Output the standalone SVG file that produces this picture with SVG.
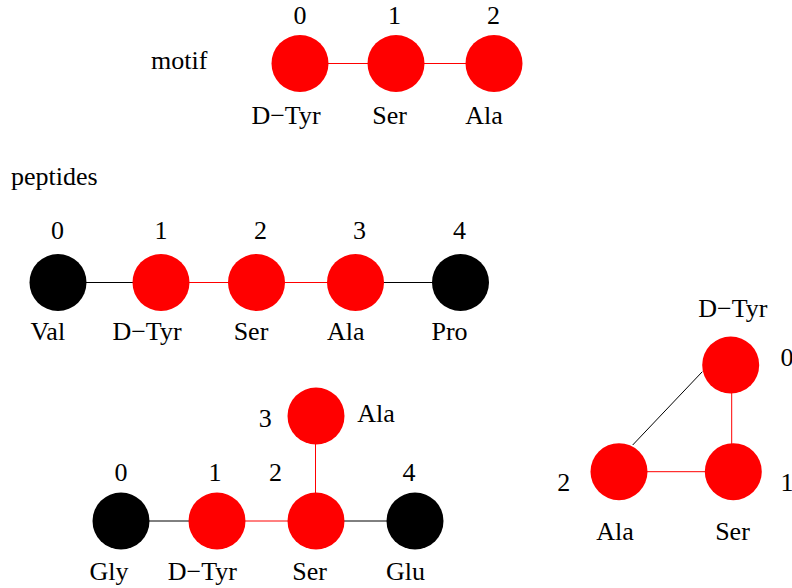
<svg xmlns="http://www.w3.org/2000/svg" width="792" height="588" viewBox="0 0 792 588" font-family="Liberation Serif" font-size="26">
<style>
text{fill:#000;text-anchor:middle}
.t{text-anchor:start}
.r{fill:#ff0000}
.k{fill:#000}
.er{stroke:#ff0000;stroke-width:1;fill:none}
.ek{stroke:#000;stroke-width:1;fill:none}
</style>
<rect width="792" height="588" fill="#fff"/>
<text class="t" x="151" y="69">motif</text>
<text class="t" x="11" y="185">peptides</text>
<g id="edges">
<line class="er" x1="300" y1="63.5" x2="396" y2="63.5"/>
<line class="er" x1="396" y1="63.5" x2="494" y2="63.5"/>
<line class="ek" x1="58" y1="282.5" x2="161" y2="282.5"/>
<line class="er" x1="161" y1="282.5" x2="256.5" y2="282.5"/>
<line class="er" x1="256.5" y1="282.5" x2="355.5" y2="282.5"/>
<line class="ek" x1="355.5" y1="282.5" x2="460.5" y2="282.5"/>
<line class="ek" x1="121" y1="521" x2="217" y2="521"/>
<line class="er" x1="217" y1="521" x2="316" y2="521"/>
<line class="ek" x1="316" y1="521" x2="415" y2="521"/>
<line class="er" x1="315.5" y1="416" x2="315.5" y2="521"/>
<line class="ek" x1="632.7" y1="445" x2="702.3" y2="371.7"/>
<line class="er" x1="731.7" y1="365" x2="731.7" y2="471.7"/>
<line class="er" x1="619" y1="471.7" x2="733.3" y2="471.7"/>
</g>
<g id="motif-0"><circle class="r" cx="300" cy="63.5" r="28.5"/><text x="300" y="24">0</text><text x="286" y="124">D−Tyr</text></g>
<g id="motif-1"><circle class="r" cx="396" cy="63.5" r="28.5"/><text x="394.5" y="24">1</text><text x="389.7" y="124">Ser</text></g>
<g id="motif-2"><circle class="r" cx="494" cy="63.5" r="28.5"/><text x="493.5" y="24">2</text><text x="484" y="124">Ala</text></g>
<g id="p1-0"><circle class="k" cx="58" cy="282.5" r="28.5"/><text x="57.5" y="238.5">0</text><text x="47.8" y="340">Val</text></g>
<g id="p1-1"><circle class="r" cx="161" cy="282.5" r="28.5"/><text x="161" y="238.5">1</text><text x="147" y="340">D−Tyr</text></g>
<g id="p1-2"><circle class="r" cx="256.5" cy="282.5" r="28.5"/><text x="260.5" y="238.5">2</text><text x="251" y="340">Ser</text></g>
<g id="p1-3"><circle class="r" cx="355.5" cy="282.5" r="28.5"/><text x="359.5" y="238.5">3</text><text x="345.8" y="340">Ala</text></g>
<g id="p1-4"><circle class="k" cx="460.5" cy="282.5" r="28.5"/><text x="459.5" y="238.5">4</text><text x="449.5" y="340">Pro</text></g>
<g id="p2-0"><circle class="k" cx="121" cy="521" r="28.5"/><text x="121" y="480.5">0</text><text x="109" y="580">Gly</text></g>
<g id="p2-1"><circle class="r" cx="217" cy="521" r="28.5"/><text x="215" y="480.5">1</text><text x="202.3" y="580">D−Tyr</text></g>
<g id="p2-2"><circle class="r" cx="316" cy="521" r="28.5"/><text x="275.5" y="480.5">2</text><text x="309.7" y="580">Ser</text></g>
<g id="p2-3"><circle class="r" cx="316" cy="416" r="28.5"/><text x="265.3" y="426.5">3</text><text x="376" y="421.7">Ala</text></g>
<g id="p2-4"><circle class="k" cx="415" cy="521" r="28.5"/><text x="409" y="480.5">4</text><text x="405.5" y="580">Glu</text></g>
<g id="t-0"><circle class="r" cx="730.7" cy="365" r="28.5"/><text x="787" y="366">0</text><text x="732.8" y="316.7">D−Tyr</text></g>
<g id="t-1"><circle class="r" cx="733.3" cy="471.7" r="28.5"/><text x="787" y="490.7">1</text><text x="732.5" y="540">Ser</text></g>
<g id="t-2"><circle class="r" cx="619" cy="471.7" r="28.5"/><text x="563.8" y="490.7">2</text><text x="615" y="540">Ala</text></g>
</svg>
